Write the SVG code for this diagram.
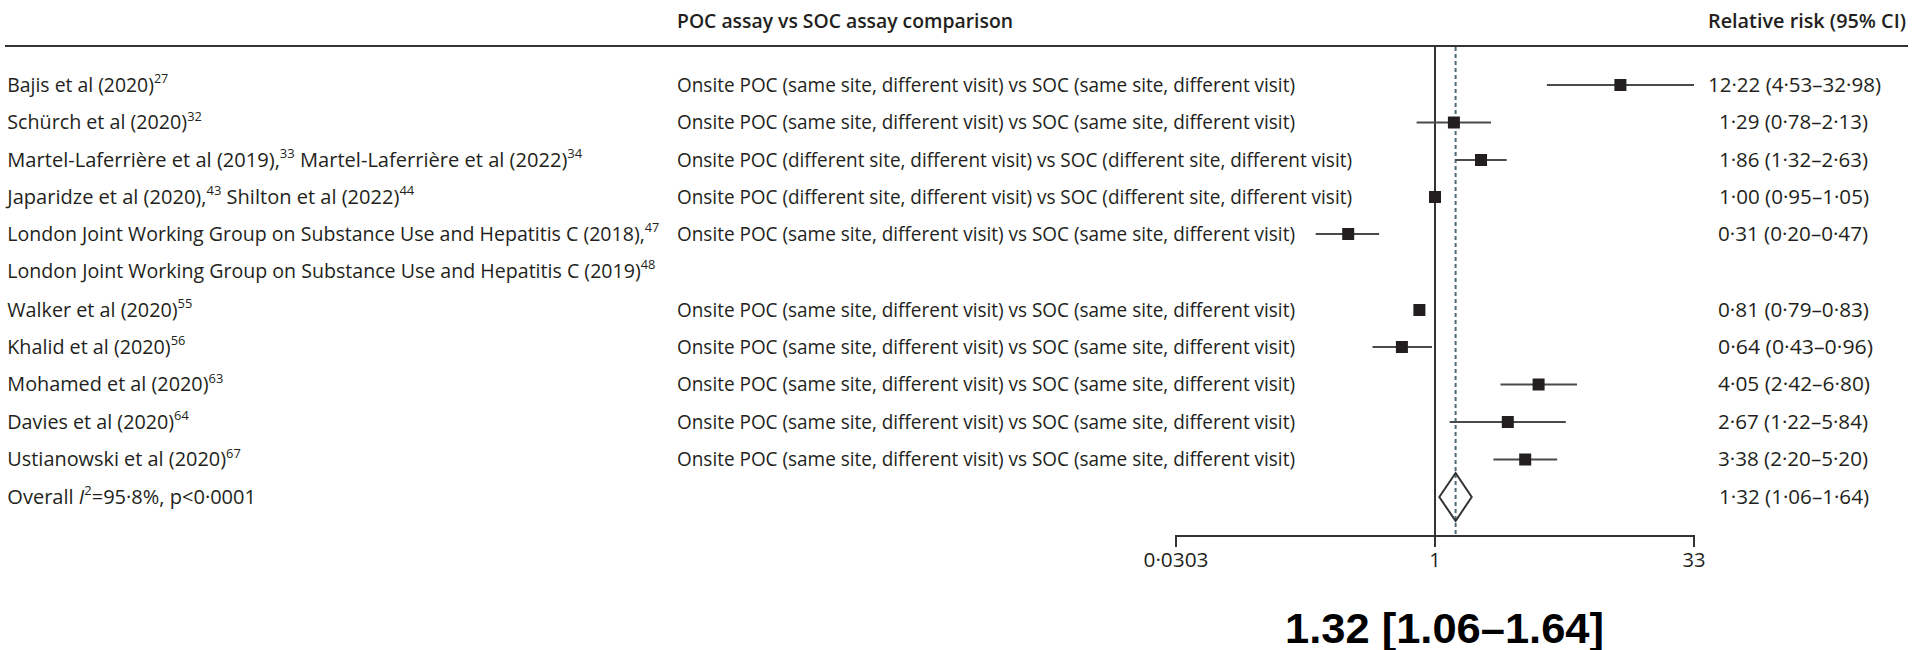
<svg xmlns="http://www.w3.org/2000/svg" width="1913" height="650" viewBox="0 0 1913 650">
  <style>
    .t{font-family:"Open Sans","Noto Sans","Liberation Sans",sans-serif;font-size:20px;fill:#231f20}
    .hd{font-weight:600}
    .sup{font-size:13px}
    .ci{stroke:#4a4a4a;stroke-width:2;fill:none}
    .pt{fill:#231f20}
    .ax{stroke:#333;stroke-width:2;fill:none}
    .ref{stroke:#4d6b78;stroke-width:2;stroke-dasharray:4 3;fill:none}
    .big{font-family:"Liberation Sans",Arial,sans-serif;font-size:42px;font-weight:bold;fill:#000}
  </style>
  <rect width="1913" height="650" fill="#fff"/>

  <!-- column headers -->
  <g id="headers">
    <text class="t hd" x="677" y="28" textLength="336" lengthAdjust="spacingAndGlyphs">POC assay vs SOC assay comparison</text>
    <text class="t hd" x="1708" y="28" textLength="198" lengthAdjust="spacingAndGlyphs">Relative risk (95% CI)</text>
    <line class="ax" x1="5" y1="46" x2="1908" y2="46"/>
  </g>

  <!-- reference lines and axis (log scale: x = 1435 + 74.1*ln(RR)) -->
  <g id="axis">
    <line class="ax" x1="1435" y1="46" x2="1435" y2="547"/>
    <line class="ref" x1="1455.6" y1="47" x2="1455.6" y2="536"/>
    <path class="ax" d="M1176 547 V536 H1694 V547"/>
    <text class="t" x="1176" y="567" text-anchor="middle" textLength="65" lengthAdjust="spacingAndGlyphs">0·0303</text>
    <text class="t" x="1435" y="567" text-anchor="middle">1</text>
    <text class="t" x="1694" y="567" text-anchor="middle" textLength="23" lengthAdjust="spacingAndGlyphs">33</text>
  </g>

  <!-- study rows -->
  <g id="row-bajis">
    <text class="t" x="7.3" y="91.5" textLength="161" lengthAdjust="spacingAndGlyphs">Bajis et al (2020)<tspan class="sup" dy="-8.5">27</tspan></text>
    <text class="t" x="677" y="91.5" textLength="618" lengthAdjust="spacingAndGlyphs">Onsite POC (same site, different visit) vs SOC (same site, different visit)</text>
    <line class="ci" x1="1546.9" y1="85" x2="1694" y2="85"/>
    <rect class="pt" x="1614.4" y="79" width="12" height="12"/>
    <text class="t" x="1708" y="91.5" textLength="173" lengthAdjust="spacingAndGlyphs">12·22 (4·53–32·98)</text>
  </g>

  <g id="row-schurch">
    <text class="t" x="7.3" y="129" textLength="194.5" lengthAdjust="spacingAndGlyphs">Schürch et al (2020)<tspan class="sup" dy="-8.5">32</tspan></text>
    <text class="t" x="677" y="129" textLength="618" lengthAdjust="spacingAndGlyphs">Onsite POC (same site, different visit) vs SOC (same site, different visit)</text>
    <line class="ci" x1="1416.6" y1="122.5" x2="1491" y2="122.5"/>
    <rect class="pt" x="1447.9" y="116.5" width="12" height="12"/>
    <text class="t" x="1719" y="129" textLength="149" lengthAdjust="spacingAndGlyphs">1·29 (0·78–2·13)</text>
  </g>

  <g id="row-martel">
    <text class="t" x="7.3" y="166.5" textLength="575" lengthAdjust="spacingAndGlyphs">Martel-Laferrière et al (2019),<tspan class="sup" dy="-8.5">33</tspan><tspan dy="8.5"> Martel-Laferrière et al (2022)</tspan><tspan class="sup" dy="-8.5">34</tspan></text>
    <text class="t" x="677" y="166.5" textLength="675" lengthAdjust="spacingAndGlyphs">Onsite POC (different site, different visit) vs SOC (different site, different visit)</text>
    <line class="ci" x1="1455.6" y1="160" x2="1506.7" y2="160"/>
    <rect class="pt" x="1475" y="154" width="12" height="12"/>
    <text class="t" x="1719" y="166.5" textLength="149" lengthAdjust="spacingAndGlyphs">1·86 (1·32–2·63)</text>
  </g>

  <g id="row-japaridze">
    <text class="t" x="7.3" y="203.5" textLength="407" lengthAdjust="spacingAndGlyphs">Japaridze et al (2020),<tspan class="sup" dy="-8.5">43</tspan><tspan dy="8.5"> Shilton et al (2022)</tspan><tspan class="sup" dy="-8.5">44</tspan></text>
    <text class="t" x="677" y="203.5" textLength="675" lengthAdjust="spacingAndGlyphs">Onsite POC (different site, different visit) vs SOC (different site, different visit)</text>
    <line class="ci" x1="1431.2" y1="197" x2="1438.6" y2="197"/>
    <rect class="pt" x="1429" y="191" width="12" height="12"/>
    <text class="t" x="1719" y="203.5" textLength="150" lengthAdjust="spacingAndGlyphs">1·00 (0·95–1·05)</text>
  </g>

  <g id="row-london">
    <text class="t" x="7.3" y="240.5" textLength="652" lengthAdjust="spacingAndGlyphs">London Joint Working Group on Substance Use and Hepatitis C (2018),<tspan class="sup" dy="-8.5">47</tspan></text>
    <text class="t" x="7.3" y="277.5" textLength="648" lengthAdjust="spacingAndGlyphs">London Joint Working Group on Substance Use and Hepatitis C (2019)<tspan class="sup" dy="-8.5">48</tspan></text>
    <text class="t" x="677" y="240.5" textLength="618" lengthAdjust="spacingAndGlyphs">Onsite POC (same site, different visit) vs SOC (same site, different visit)</text>
    <line class="ci" x1="1315.7" y1="234" x2="1379.1" y2="234"/>
    <rect class="pt" x="1342.2" y="228" width="12" height="12"/>
    <text class="t" x="1718" y="240.5" textLength="150" lengthAdjust="spacingAndGlyphs">0·31 (0·20–0·47)</text>
  </g>

  <g id="row-walker">
    <text class="t" x="7.3" y="316.5" textLength="185" lengthAdjust="spacingAndGlyphs">Walker et al (2020)<tspan class="sup" dy="-8.5">55</tspan></text>
    <text class="t" x="677" y="316.5" textLength="618" lengthAdjust="spacingAndGlyphs">Onsite POC (same site, different visit) vs SOC (same site, different visit)</text>
    <line class="ci" x1="1417.5" y1="310" x2="1421.2" y2="310"/>
    <rect class="pt" x="1413.4" y="304" width="12" height="12"/>
    <text class="t" x="1718" y="316.5" textLength="151" lengthAdjust="spacingAndGlyphs">0·81 (0·79–0·83)</text>
  </g>

  <g id="row-khalid">
    <text class="t" x="7.3" y="353.5" textLength="178" lengthAdjust="spacingAndGlyphs">Khalid et al (2020)<tspan class="sup" dy="-8.5">56</tspan></text>
    <text class="t" x="677" y="353.5" textLength="618" lengthAdjust="spacingAndGlyphs">Onsite POC (same site, different visit) vs SOC (same site, different visit)</text>
    <line class="ci" x1="1372.5" y1="347" x2="1432" y2="347"/>
    <rect class="pt" x="1395.9" y="341" width="12" height="12"/>
    <text class="t" x="1718" y="353.5" textLength="155" lengthAdjust="spacingAndGlyphs">0·64 (0·43–0·96)</text>
  </g>

  <g id="row-mohamed">
    <text class="t" x="7.3" y="391" textLength="216" lengthAdjust="spacingAndGlyphs">Mohamed et al (2020)<tspan class="sup" dy="-8.5">63</tspan></text>
    <text class="t" x="677" y="391" textLength="618" lengthAdjust="spacingAndGlyphs">Onsite POC (same site, different visit) vs SOC (same site, different visit)</text>
    <line class="ci" x1="1500.5" y1="384.5" x2="1577" y2="384.5"/>
    <rect class="pt" x="1532.6" y="378.5" width="12" height="12"/>
    <text class="t" x="1718" y="391" textLength="152" lengthAdjust="spacingAndGlyphs">4·05 (2·42–6·80)</text>
  </g>

  <g id="row-davies">
    <text class="t" x="7.3" y="428.5" textLength="181.5" lengthAdjust="spacingAndGlyphs">Davies et al (2020)<tspan class="sup" dy="-8.5">64</tspan></text>
    <text class="t" x="677" y="428.5" textLength="618" lengthAdjust="spacingAndGlyphs">Onsite POC (same site, different visit) vs SOC (same site, different visit)</text>
    <line class="ci" x1="1449.7" y1="422" x2="1565.8" y2="422"/>
    <rect class="pt" x="1501.8" y="416" width="12" height="12"/>
    <text class="t" x="1718" y="428.5" textLength="150" lengthAdjust="spacingAndGlyphs">2·67 (1·22–5·84)</text>
  </g>

  <g id="row-ustianowski">
    <text class="t" x="7.3" y="466" textLength="233.5" lengthAdjust="spacingAndGlyphs">Ustianowski et al (2020)<tspan class="sup" dy="-8.5">67</tspan></text>
    <text class="t" x="677" y="466" textLength="618" lengthAdjust="spacingAndGlyphs">Onsite POC (same site, different visit) vs SOC (same site, different visit)</text>
    <line class="ci" x1="1493.4" y1="459.5" x2="1557.2" y2="459.5"/>
    <rect class="pt" x="1519.2" y="453.5" width="12" height="12"/>
    <text class="t" x="1718" y="466" textLength="150" lengthAdjust="spacingAndGlyphs">3·38 (2·20–5·20)</text>
  </g>

  <!-- pooled estimate -->
  <g id="row-overall">
    <text class="t" x="7.3" y="503.5" textLength="248.7" lengthAdjust="spacingAndGlyphs">Overall <tspan font-style="italic">I</tspan><tspan class="sup" dy="-8.5">2</tspan><tspan dy="8.5">=95·8%, p&lt;0·0001</tspan></text>
    <polygon points="1439.3,497 1455.6,473 1471.7,497 1455.6,521" fill="none" stroke="#333" stroke-width="2"/>
    <text class="t" x="1719" y="503.5" textLength="150" lengthAdjust="spacingAndGlyphs">1·32 (1·06–1·64)</text>
  </g>

  <g id="summary">
    <text class="big" x="1285" y="643" textLength="319" lengthAdjust="spacingAndGlyphs">1.32 [1.06–1.64]</text>
  </g>
</svg>
